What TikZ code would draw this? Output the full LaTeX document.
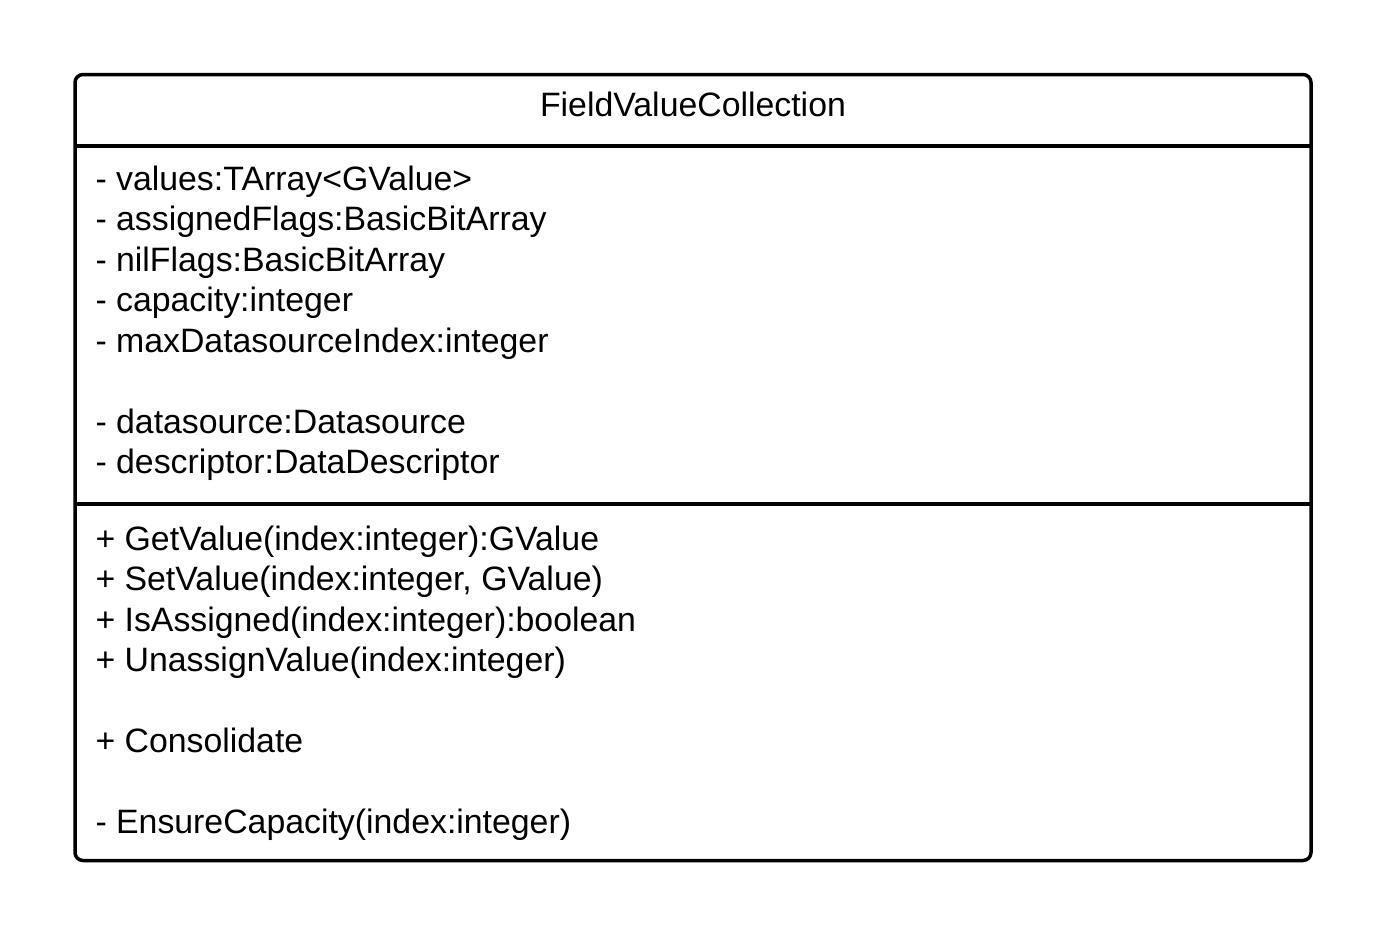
\documentclass[tikz,border=0pt]{standalone}
\usepackage{fontspec}
\setmainfont{Liberation Sans}
\begin{document}
\begin{tikzpicture}[font=\fontsize{19.25}{22}\selectfont, every node/.style={inner sep=0pt, outer sep=0pt, anchor=base west}, line join=round]
	\useasboundingbox (0, 0) rectangle (27.76, -18.76);
	
	% Khung lớp
	\draw[line width=0.07cm, rounded corners=0.16cm] (1.50, -1.49) rectangle (26.22, -17.21);
	\draw[line width=0.07cm] (1.50, -2.92) -- (26.22, -2.92);
	\draw[line width=0.07cm] (1.50, -10.08) -- (26.22, -10.08);
	
	% Tên lớp
	\node[anchor=base] (title) at (13.86, -2.33) {FieldValueCollection};
	
	% Thuộc tính
	\node (a1) at (1.91, -3.80) {- values:TArray<GValue>};
	\node (a2) at (1.91, -4.61) {- assignedFlags:BasicBitArray};
	\node (a3) at (1.91, -5.42) {- nilFlags:BasicBitArray};
	\node (a4) at (1.91, -6.23) {- capacity:integer};
	\node (a5) at (1.91, -7.04) {- maxDatasourceIndex:integer};
	\node (a6) at (1.91, -8.66) {- datasource:Datasource};
	\node (a7) at (1.91, -9.47) {- descriptor:DataDescriptor};
	
	% Phương thức
	\node (m1) at (1.91, -11.00) {+ GetValue(index:integer):GValue};
	\node (m2) at (1.91, -11.81) {+ SetValue(index:integer, GValue)};
	\node (m3) at (1.91, -12.62) {+ IsAssigned(index:integer):boolean};
	\node (m4) at (1.91, -13.43) {+ UnassignValue(index:integer)};
	\node (m5) at (1.91, -15.05) {+ Consolidate};
	\node (m6) at (1.91, -16.67) {- EnsureCapacity(index:integer)};
\end{tikzpicture}
\end{document}
